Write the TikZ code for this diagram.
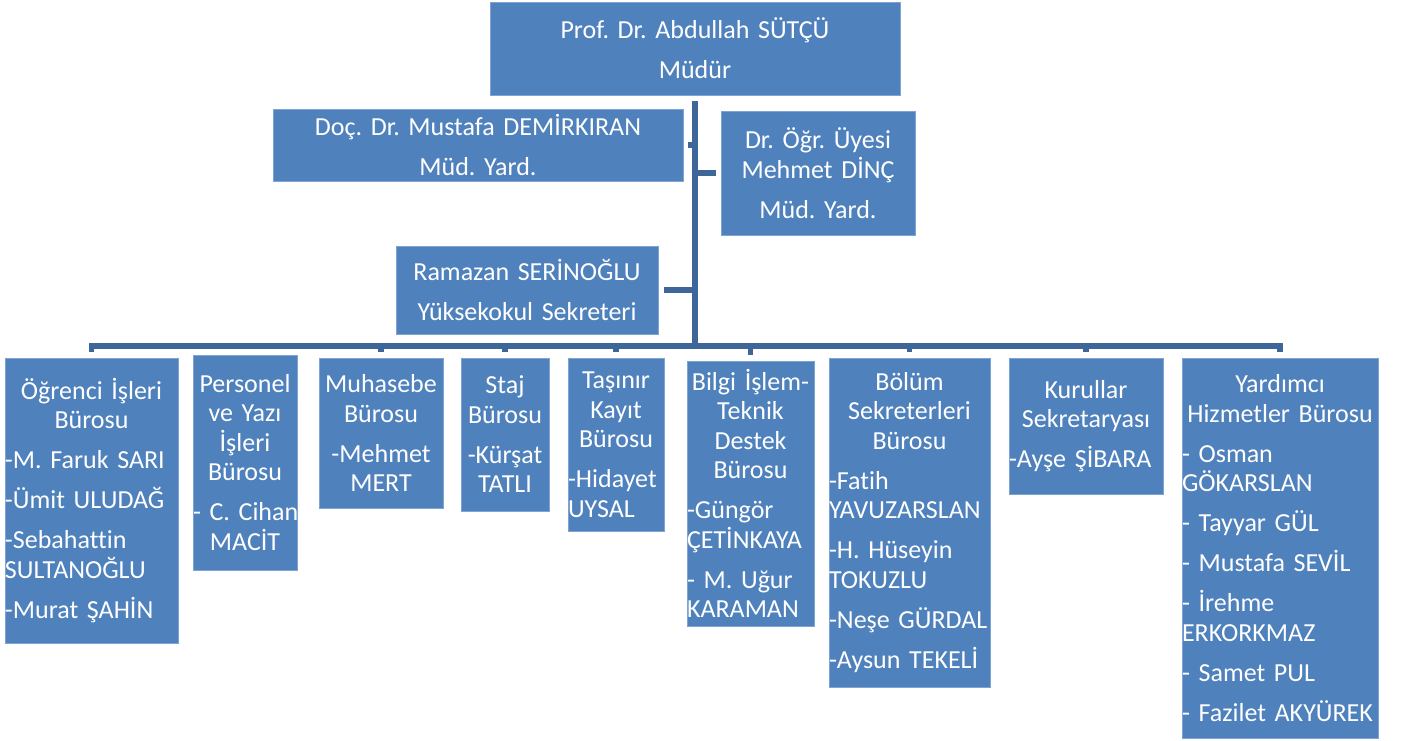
\documentclass[tikz,border=0pt]{standalone}
\usepackage{fontspec}
\setmainfont{Carlito}[Ligatures=NoCommon]
\usepackage{tikz}
\definecolor{boxblue}{HTML}{4F81BD}
\definecolor{boxedge}{HTML}{7FA3D3}
\definecolor{linkblue}{HTML}{3E6698}
\newcommand{\namel}[1]{\leavevmode\hbox to \hsize{#1\hss}}
\frenchspacing

\begin{document}
\begin{tikzpicture}[x=1pt, y=-1pt,
    unit/.style={shape=rectangle, fill=boxblue, draw=boxedge, line width=0.8pt,
      text=white, inner sep=0pt, align=center,
      font=\fontsize{26}{29.5}\selectfont},
    boxsize/.style 2 args={text width=#1pt, minimum height=#2pt},
    link/.style={draw=linkblue, line width=5.5pt}]
    \useasboundingbox (0, 0) rectangle (1403, 740);

    \node at (695, 48.5) (mudur) [unit, boxsize={410}{93}] {Prof. Dr. Abdullah SÜTÇÜ\\[10.5pt] Müdür};
    \node at (478, 145) (docyard) [unit, boxsize={410}{72}] {Doç. Dr. Mustafa DEMİRKIRAN\\[10.5pt] Müd. Yard.};
    \node at (818, 173) (drogr) [unit, boxsize={194}{124}] {Dr. Öğr. Üyesi\\ Mehmet DİNÇ\\[10.5pt] Müd. Yard.};
    \node at (527, 290) (sekreter) [unit, boxsize={262}{88}] {Ramazan SERİNOĞLU\\[10.5pt] Yüksekokul Sekreteri};

    \node at (91.5, 500.5) (ogrenci) [unit, boxsize={173}{285}] {Öğrenci İşleri\\ Bürosu\\[10.5pt]
      \namel{-M. Faruk SARI}\\[10.5pt] \namel{-Ümit ULUDAĞ}\\[10.5pt]
      \namel{-Sebahattin}\\ \namel{SULTANOĞLU}\\[10.5pt] \namel{-Murat ŞAHİN}};
    \node at (245, 462.5) (personel) [unit, boxsize={104}{215}] {Personel\\ ve Yazı\\ İşleri\\ Bürosu\\[10.5pt]
      \namel{- C. Cihan}\\ MACİT};
    \node at (381, 433) (muhasebe) [unit, boxsize={124}{150}] {Muhasebe\\ Bürosu\\[10.5pt] -Mehmet\\ MERT};
    \node at (505, 434.5) (staj) [unit, boxsize={88}{153}] {Staj\\ Bürosu\\[10.5pt] -Kürşat\\ TATLI};
    \node at (616, 444.5) (tasinir) [unit, boxsize={96}{173}] {Taşınır\\ Kayıt\\ Bürosu\\[10.5pt]
      \namel{-Hidayet}\\ \namel{UYSAL}};
    \node at (750.5, 493.5) (bilgi) [unit, boxsize={127}{265}] {Bilgi İşlem-\\ Teknik\\ Destek\\ Bürosu\\[10.5pt]
      \namel{-Güngör}\\ \namel{ÇETİNKAYA}\\[10.5pt] \namel{- M. Uğur}\\ \namel{KARAMAN}};
    \node at (909.5, 522.5) (bolum) [unit, boxsize={161}{329}] {Bölüm\\ Sekreterleri\\ Bürosu\\[10.5pt]
      \namel{-Fatih}\\ \namel{YAVUZARSLAN}\\[10.5pt] \namel{-H. Hüseyin}\\ \namel{TOKUZLU}\\[10.5pt]
      \namel{-Neşe GÜRDAL}\\[10.5pt] \namel{-Aysun TEKELİ}};
    \node at (1086, 426) (kurullar) [unit, boxsize={154}{136}] {Kurullar\\ Sekretaryası\\[10.5pt]
      \namel{-Ayşe ŞİBARA}};
    \node at (1280, 548) (yardimci) [unit, boxsize={196}{380}] {Yardımcı\\ Hizmetler Bürosu\\[10.5pt]
      \namel{- Osman}\\ \namel{GÖKARSLAN}\\[10.5pt] \namel{- Tayyar GÜL}\\[10.5pt]
      \namel{- Mustafa SEVİL}\\[10.5pt] \namel{- İrehme}\\ \namel{ERKORKMAZ}\\[10.5pt]
      \namel{- Samet PUL}\\[10.5pt] \namel{- Fazilet AKYÜREK}};

    \coordinate (hub) at (695, 346);
    \draw[link, shorten <=6pt, shorten >=-3pt] (mudur.south) -- (hub);
    \draw[link, shorten <=5pt] (docyard.east) -- (docyard.east -| hub);
    \draw[link, shorten <=5pt] (drogr.west) -- (drogr.west -| hub);
    \draw[link, shorten <=6pt] (sekreter.east) -- (sekreter.east -| hub);
    \foreach \u in {ogrenci, personel, muhasebe, staj, tasinir, bilgi, bolum, kurullar, yardimci}
      \draw[link, shorten >=6pt] (hub) -| (\u.north);
  \end{tikzpicture}
\end{document}
